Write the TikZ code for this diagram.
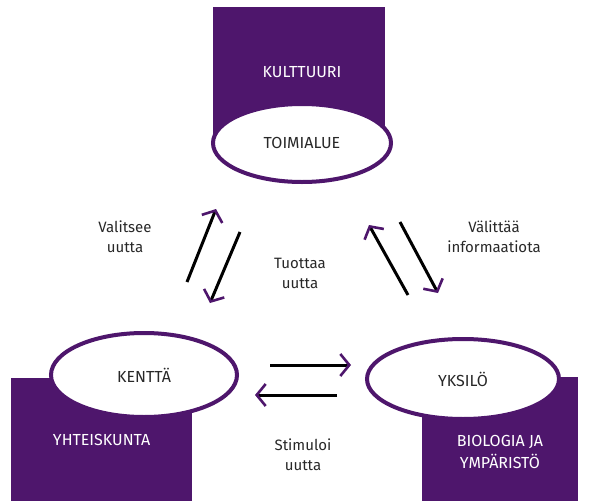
\documentclass[tikz,border=0pt]{standalone}
\usepackage{fontspec}
\setmainfont{Fira Sans}
\usepackage{tikz}
\usetikzlibrary{arrows.meta, shapes.geometric}
\definecolor{violetti}{RGB}{78,22,108}
\definecolor{teksti}{RGB}{40,40,40}

\tikzset{
  alue/.style={fill=violetti, draw=none},
  soikio/.style={ellipse, fill=white, draw=violetti, line width=4pt, inner sep=0pt},
  nuoli/.style={line width=3pt, color=black, -{Straight Barb[color=violetti, length=9pt, width=22pt, line width=2.6pt]}},
  selite/.style={font=\fontsize{15}{20}\selectfont, color=teksti, align=center, inner sep=0.75pt},
  valkea/.style={font=\fontsize{16}{22}\selectfont, color=white, align=center, inner sep=0.75pt}
}

\begin{document}
\begin{tikzpicture}[x=1pt,y=1pt,yscale=-1,xscale=1]
\path[use as bounding box, fill=white] (0,0) rectangle (590,501);

%Shape: Rectangle
\fill[alue] (213,7) rectangle (385,143);
\fill[alue] (11,378) rectangle (192,501);
\fill[alue] (422,377) rectangle (578,501);

%Shape: Ellipse
\node[soikio, minimum width=178pt, minimum height=78pt] (toimialue) at (302,143) {};
\node[soikio, minimum width=186pt, minimum height=84pt] (kentta) at (144,375) {};
\node[soikio, minimum width=192pt, minimum height=80pt] (yksilo) at (463,379) {};

% Text Node
\node[valkea] (kulttuuri) at (302,72) {KULTTUURI};
\node[valkea, color=teksti] (toim) at (toimialue) {TOIMIALUE};
\node[valkea, color=teksti] (kent) at (kentta) {KENTTÄ};
\node[valkea, color=teksti] (yks) at (yksilo) {YKSILÖ};
\node[valkea, anchor=west] (yhteiskunta) at (52,440) {YHTEISKUNTA};
\node[valkea] (biologia) at (500,452) {BIOLOGIA JA\\YMPÄRISTÖ};

%Arrow end points
\coordinate (v1) at (187,282);
\coordinate (v2) at (216,209);
\coordinate (v3) at (240,232);
\coordinate (v4) at (210,303);
\coordinate (o1) at (408,295);
\coordinate (o2) at (369,225);
\coordinate (o3) at (400,222);
\coordinate (o4) at (438,293);
\coordinate (a1) at (270,365);
\coordinate (a2) at (351,365);
\coordinate (a3) at (337,395);
\coordinate (a4) at (255,395);

%Straight Lines
\draw[nuoli] (v1) -- (v2);
\draw[nuoli] (v3) -- (v4);
\draw[nuoli] (o1) -- (o2);
\draw[nuoli] (o3) -- (o4);
\draw[nuoli] (a1) -- (a2);
\draw[nuoli] (a3) -- (a4);

% Text Node
\node[selite] (valitsee) at (125,237) {Valitsee\\uutta};
\node[selite] (tuottaa) at (300,273) {Tuottaa\\uutta};
\node[selite] (valittaa) at (494,237) {Välittää\\informaatiota};
\node[selite] (stimuloi) at (303,455) {Stimuloi\\uutta};

\end{tikzpicture}
\end{document}
